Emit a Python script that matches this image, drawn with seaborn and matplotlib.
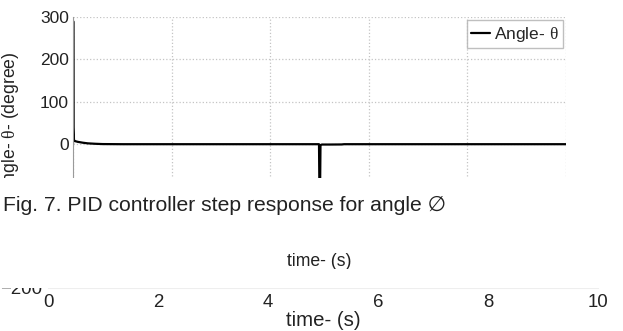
import numpy as np
import matplotlib
matplotlib.use("Agg")
import matplotlib.pyplot as plt
from matplotlib.patches import Rectangle
import seaborn as sns

# values
time_s = [0.0, 0.004, 0.01, 0.02, 0.05, 0.1, 0.2, 0.3, 0.45, 0.6, 1.0, 2.0,
          3.0, 4.0, 4.99, 5.005, 5.02, 5.05, 5.2, 5.45, 5.5, 6.0, 8.0, 10.0]
angle_deg = [0.0, 290.0, 40.0, 9.0, 7.0, 5.5, 3.5, 2.0, 1.0, 0.3, 0.0, 0.0,
             0.0, 0.0, 0.0, -190.0, -2.0, -0.8, -0.8, -0.6, 0.0, 0.0, 0.0, 0.0]
x_ticks = [0, 2, 4, 6, 8, 10]
y_ticks = [-200, -100, 0, 100, 200, 300]
caption = "Fig. 7. PID controller step response for angle \u2205"

sns.set_style("white")
plt.rcParams["font.family"] = ["Liberation Sans", "DejaVu Sans"]
plt.rcParams["mathtext.fontset"] = "custom"
plt.rcParams["mathtext.rm"] = "Liberation Serif"
plt.rcParams["mathtext.it"] = "Liberation Serif"

W, H = 623, 331
fig = plt.figure(figsize=(W / 100, H / 100), dpi=100)

def fy(px):
    return 1 - px / H

# main axes (only its upper part is visible in the crop)
ax = fig.add_axes([73 / W, fy(229), (566 - 73) / W, fy(17) - fy(229)])
sns.lineplot(x=time_s, y=angle_deg, ax=ax, color="black", linewidth=1.6,
             label=r"Angle- $\theta$")
ax.set_xlim(0, 10)
ax.set_ylim(-200, 300)
ax.set_xticks(x_ticks)
ax.set_yticks(y_ticks)
ax.tick_params(labelsize=12.5, length=0, pad=3, colors="#222222")
ax.tick_params(axis="x", pad=4.3, labelcolor="#888888")
ax.grid(True, linestyle=":", color="#c4c4c4", linewidth=0.9)
for s in ["top", "right", "bottom"]:
    ax.spines[s].set_visible(False)
ax.spines["left"].set_color("#9a9a9a")
ax.set_xlabel("time- (s)", fontsize=12.7, color="#222222", labelpad=2.5)
ax.set_ylabel(r"Angle- $\theta$- (degree)", fontsize=12.7, color="#222222",
              labelpad=6)
leg = ax.legend(loc="upper right", fontsize=12.5, frameon=True, fancybox=False,
                handlelength=1.1, handletextpad=0.2, borderpad=0.25,
                borderaxespad=0.2)
leg.get_frame().set_edgecolor("#b0b0b0")
leg.get_frame().set_linewidth(1.0)

# second fragment: bottom of another time axis
ax2 = fig.add_axes([48 / W, fy(288), 550 / W, 0.05])
ax2.set_xlim(0, 10)
ax2.set_ylim(-200, -100)
ax2.set_xticks(x_ticks)
ax2.set_yticks([-200])
ax2.tick_params(labelsize=13.4, length=0, pad=4, colors="#222222")
for s in ["top", "right", "left"]:
    ax2.spines[s].set_visible(False)
ax2.spines["bottom"].set_color("#eeeeee")
ax2.set_xlabel("time- (s)", fontsize=14.7, color="#222222", labelpad=0)

# white areas of the crop
fig.add_artist(Rectangle((0, fy(247)), 1, fy(178) - fy(247),
                         transform=fig.transFigure, facecolor="white",
                         edgecolor="none", zorder=10))
fig.add_artist(Rectangle((0, fy(287.5)), 1, fy(269) - fy(287.5),
                         transform=fig.transFigure, facecolor="white",
                         edgecolor="none", zorder=10))
fig.text(3 / W, fy(211), caption, fontsize=15.2, color="#222222",
         ha="left", va="baseline", zorder=11,
         family=["Liberation Sans", "DejaVu Sans"])

fig.savefig("out.png", dpi=100)
